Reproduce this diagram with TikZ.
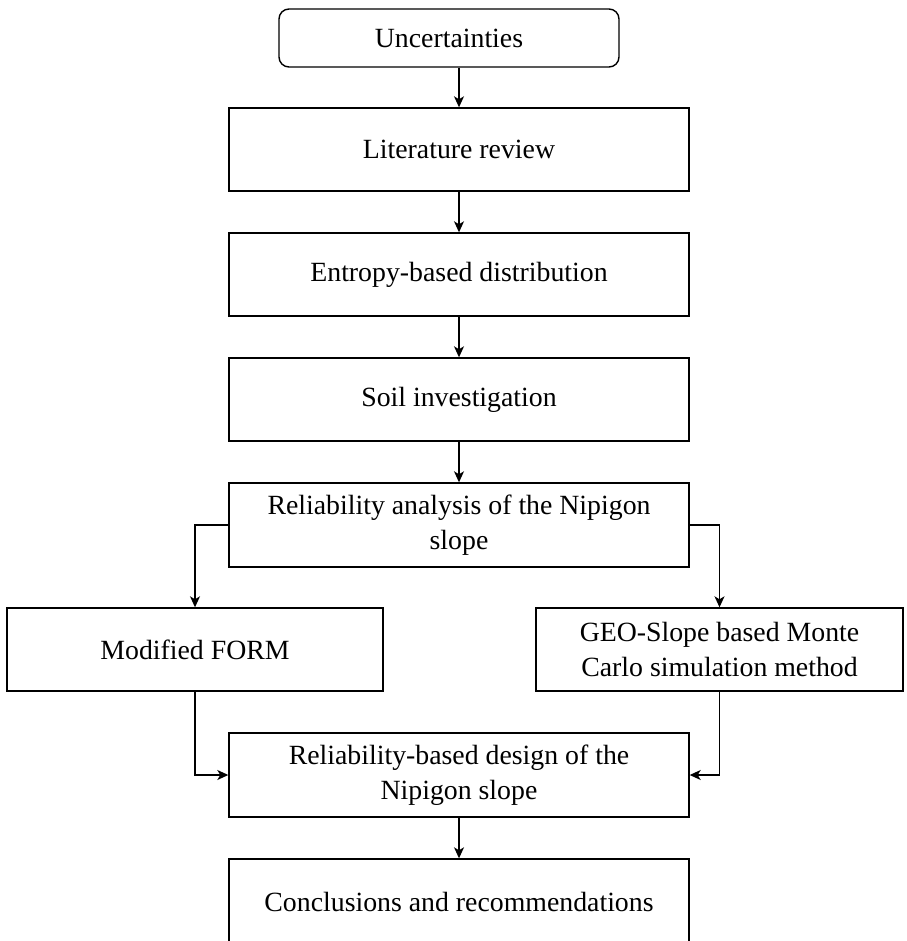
\documentclass[tikz,border=0pt]{standalone}
\usepackage{fontspec}
\setmainfont{Liberation Serif}
\usetikzlibrary{arrows.meta}

\tikzset{
    box/.style={draw, line width=0.7pt, minimum width=230pt, minimum height=41.5pt,
        inner sep=0pt, align=center},
    startbox/.style={box, rounded corners=5pt, minimum width=170pt, minimum height=29pt},
    flow/.style={line width=0.65pt, -{Stealth[length=5.5pt,width=5pt,inset=1.5pt]}},
}

\begin{document}
\begin{tikzpicture}[x=0.5pt, y=-0.5pt, font=\fontsize{13.9}{17.5}\selectfont]
    \useasboundingbox (0,0) rectangle (906,941);
    \clip (0,0) rectangle (906,941);

    % main column
    \node[startbox] (unc) at (449,38) {Uncertainties};
    \node[box] (lit) at (459,149.5) {Literature review};
    \node[box] (ent) at (459,274.5) {Entropy-based distribution};
    \node[box] (soil) at (459,399.5) {Soil investigation};
    \node[box, minimum height=42pt] (rel) at (459,525)
        {Reliability analysis of the Nipigon\\slope};

    % two methods
    \node[box, minimum width=188pt] (form) at (195,649.5) {Modified FORM};
    \node[box, minimum width=183.5pt] (geo) at (719.5,649.5)
        {GEO-Slope based Monte\\Carlo simulation method};

    \node[box, minimum height=42pt] (rbd) at (459,775)
        {Reliability-based design of the\\Nipigon slope};
    \node[box, minimum height=43pt] (conc) at (459,902) {Conclusions and recommendations};

    \draw[flow] (unc.south -| lit.north) -- (lit.north);
    \draw[flow] (lit) -- (ent);
    \draw[flow] (ent) -- (soil);
    \draw[flow] (soil) -- (rel);
    \draw[flow] (rel.west) -| (form.north);
    \draw[flow] (rel.east) -| (geo.north);
    \draw[flow] (form.south) |- (rbd.west);
    \draw[flow] (geo.south) |- (rbd.east);
    \draw[flow] (rbd) -- (conc);
\end{tikzpicture}
\end{document}
